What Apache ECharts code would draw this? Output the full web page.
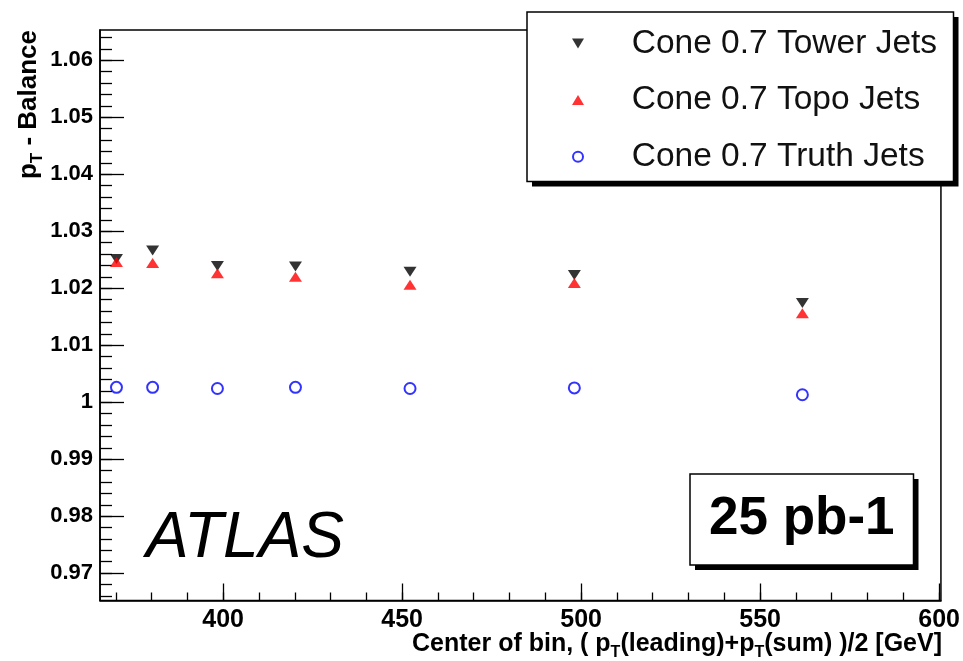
<!DOCTYPE html>
<html><head><meta charset="utf-8">
<script src="https://cdn.jsdelivr.net/npm/echarts@6/dist/echarts.min.js"></script>
<style>html,body{margin:0;padding:0;background:#fff}#c{width:963px;height:661px}</style>
</head><body><div id="c"></div>
<script>
// ---- data ----
const xValues   = [370.2, 380.3, 398.4, 420.2, 452.2, 498.1, 561.8];
const towerJets = [1.0251, 1.0266, 1.0239, 1.0238, 1.0229, 1.0223, 1.0174];
const topoJets  = [1.0246, 1.0244, 1.0226, 1.0220, 1.0206, 1.0209, 1.0156];
const truthJets = [1.0026, 1.0026, 1.0024, 1.0026, 1.0024, 1.0025, 1.0013];
const seriesNames = ['Cone 0.7 Tower Jets', 'Cone 0.7 Topo Jets', 'Cone 0.7 Truth Jets'];
const xMajorTicks = [400, 450, 500, 550, 600];
const xMinorTicks = [370, 380, 390, 400, 410, 420, 430, 440, 450, 460, 470, 480, 490, 500,
                     510, 520, 530, 540, 550, 560, 570, 580, 590, 600];
const yMajorTicks = [0.97, 0.98, 0.99, 1, 1.01, 1.02, 1.03, 1.04, 1.05, 1.06];
const yMinorTicks = [];
for (let i = 483; i <= 532; i++) yMinorTicks.push(+(i * 0.002).toFixed(3));
const xRange = [365.6, 600.5];
const yRange = [0.9652, 1.0653];
const lumiText = '25 pb-1';
const atlasText = 'ATLAS';

const FONT = '"Liberation Sans", Arial, Helvetica, sans-serif';
const DOWN_TRI = 'path://M0,0L12,0L6,10Z';
const UP_TRI = 'path://M6,0L12,10L0,10Z';

const chart = echarts.init(document.getElementById('c'), null, {renderer: 'canvas'});

const gridPos = {left: 100, right: 21.5, top: 30, bottom: 60.5};
const legendBox = {x: 527, y: 12, width: 426.5, height: 169.5};
const lumiBox = {x: 690, y: 474, width: 223.5, height: 91};
const SHADOW = 5;

function boxWithShadow(b) {
  return [
    {type: 'rect', z: 3, silent: true, shape: {x: b.x + SHADOW, y: b.y + SHADOW, width: b.width, height: b.height},
     style: {fill: '#000'}},
    {type: 'rect', z: 3, silent: true, shape: {x: b.x, y: b.y, width: b.width, height: b.height},
     style: {fill: '#fff', stroke: '#000', lineWidth: 1.5}}
  ];
}

const option = {
  animation: false,
  backgroundColor: '#fff',
  grid: Object.assign({show: true, borderColor: '#000', borderWidth: 1.5, backgroundColor: '#fff'}, gridPos),
  xAxis: [
    {
      type: 'value', min: xRange[0], max: xRange[1], position: 'bottom',
      axisLine: {show: true, onZero: false, lineStyle: {color: '#000', width: 1.5}},
      axisTick: {show: true, inside: true, length: 17, customValues: xMajorTicks, lineStyle: {color: '#000', width: 1.3}},
      axisLabel: {customValues: xMajorTicks, margin: 7, fontSize: 25, fontWeight: 'bold', fontFamily: FONT, color: '#000',
                  showMinLabel: true, showMaxLabel: true},
      splitLine: {show: false}
    },
    {
      type: 'value', min: xRange[0], max: xRange[1], position: 'bottom',
      axisLine: {show: false, onZero: false},
      axisTick: {show: true, inside: true, length: 8, customValues: xMinorTicks, lineStyle: {color: '#000', width: 1.3}},
      axisLabel: {show: false},
      splitLine: {show: false}
    }
  ],
  yAxis: [
    {
      type: 'value', min: yRange[0], max: yRange[1], position: 'left',
      axisLine: {show: true, onZero: false, lineStyle: {color: '#000', width: 1.5}},
      axisTick: {show: true, inside: true, length: 24, customValues: yMajorTicks, lineStyle: {color: '#000', width: 1.3}},
      axisLabel: {customValues: yMajorTicks, margin: 7, fontSize: 22, fontWeight: 'bold', fontFamily: FONT, color: '#000',
                  formatter: v => String(parseFloat((+v).toFixed(3)))},
      splitLine: {show: false}
    },
    {
      type: 'value', min: yRange[0], max: yRange[1], position: 'left',
      axisLine: {show: false, onZero: false},
      axisTick: {show: true, inside: true, length: 12, customValues: yMinorTicks, lineStyle: {color: '#000', width: 1.3}},
      axisLabel: {show: false},
      splitLine: {show: false}
    }
  ],
  legend: {
    orient: 'vertical', left: legendBox.x, top: legendBox.y, z: 5,
    padding: [13.5, 10, 8, 45],
    itemWidth: 14, itemHeight: 10, itemGap: 20.6,
    selectedMode: false,
    textStyle: {fontSize: 33.5, lineHeight: 36, fontFamily: FONT, color: '#111', padding: [0, 0, 0, 41.7]},
    data: seriesNames
  },
  title: [
    {
      text: lumiText, left: lumiBox.x, top: lumiBox.y, z: 10,
      padding: [17.5, 19, 17.5, 19],
      textStyle: {fontSize: 53, lineHeight: 56, fontWeight: 'bold', fontFamily: FONT, color: '#000'}
    },
    {
      text: atlasText, left: 146, top: 507, padding: 0, z: 10,
      textStyle: {fontSize: 64, lineHeight: 64, fontWeight: 'normal', fontStyle: 'italic', fontFamily: FONT, color: '#000'}
    }
  ],
  graphic: [
    ...boxWithShadow(legendBox),
    ...boxWithShadow(lumiBox),
    {
      type: 'text', x: 942, y: 645, z: 10,
      style: {
        text: '{m|Center of bin, ( p}{s|T}{m|(leading)+p}{s|T}{m|(sum) )/2 [GeV]}',
        align: 'right', verticalAlign: 'middle', fill: '#000',
        rich: {
          m: {fontSize: 25, fontWeight: 'bold', fontFamily: FONT, fill: '#000', lineHeight: 26, verticalAlign: 'top'},
          s: {fontSize: 16, fontWeight: 'bold', fontFamily: FONT, fill: '#000', lineHeight: 16, padding: [13, 0, 0, 0], verticalAlign: 'top'}
        }
      }
    },
    {
      type: 'text', x: 29, y: 30, rotation: Math.PI / 2, z: 10,
      style: {
        text: '{m|p}{s|T}{m| - Balance}',
        align: 'right', verticalAlign: 'middle', fill: '#000',
        rich: {
          m: {fontSize: 26, fontWeight: 'bold', fontFamily: FONT, fill: '#000', lineHeight: 27, verticalAlign: 'top'},
          s: {fontSize: 17, fontWeight: 'bold', fontFamily: FONT, fill: '#000', lineHeight: 17, padding: [13, 0, 0, 0], verticalAlign: 'top'}
        }
      }
    }
  ],
  series: [
    {
      name: seriesNames[0], type: 'scatter', xAxisIndex: 0, yAxisIndex: 0,
      symbol: DOWN_TRI, symbolSize: [13, 10],
      itemStyle: {color: '#000'},
      data: xValues.map((x, i) => [x, towerJets[i]])
    },
    {
      name: seriesNames[1], type: 'scatter', xAxisIndex: 0, yAxisIndex: 0,
      symbol: UP_TRI, symbolSize: [13, 10],
      itemStyle: {color: '#ff0000'},
      data: xValues.map((x, i) => [x, topoJets[i]])
    },
    {
      name: seriesNames[2], type: 'scatter', xAxisIndex: 0, yAxisIndex: 0,
      symbol: 'emptyCircle', symbolSize: 11,
      itemStyle: {color: '#0000ff', borderColor: '#0000ff', borderWidth: 2},
      data: xValues.map((x, i) => [x, truthJets[i]])
    }
  ]
};
chart.setOption(option);
</script>
</body></html>
